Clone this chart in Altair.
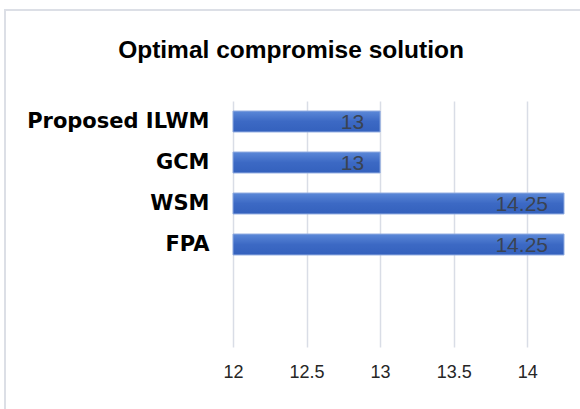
import altair as alt
import pandas as pd

categories = ["Proposed ILWM", "GCM", "WSM", "FPA"]
values = [13, 13, 14.25, 14.25]
label_texts = ["13", "13", "14.25", "14.25"]
y_domain = categories + [" ", "  "]
tick_values = [12, 12.5, 13, 13.5, 14]
x_min, x_max = 12, 14.25
title_text = "Optimal compromise solution"

df = pd.DataFrame({"cat": categories, "val": values, "lbl": label_texts, "base": [x_min] * len(values)})

W, H = 331, 246
PAD_L, PAD_T = 233, 101

xscale = alt.Scale(domain=[x_min, x_max], zero=False, nice=False)
yscale = alt.Scale(domain=y_domain, paddingInner=0.49, paddingOuter=0.245)

x_enc = alt.X("val:Q", scale=xscale,
              axis=alt.Axis(values=tick_values, title=None, domain=False, ticks=False,
                            grid=True, gridColor="#d9dde6", gridWidth=1.5, format="~g",
                            labelFont="Liberation Sans", labelFontSize=18, labelColor="#262626",
                            labelPadding=16, labelFlush=False))
y_enc = alt.Y("cat:N", scale=yscale, sort=y_domain,
              axis=alt.Axis(title=None, domain=False, ticks=False, grid=False,
                            labelFont="DejaVu Sans", labelFontWeight="bold", labelLimit=300,
                            labelFontSize=21, labelColor="#000000", labelPadding=24))

grad = alt.LinearGradient(
    gradient="linear",
    stops=[alt.GradientStop(color="#5b88d8", offset=0),
           alt.GradientStop(color="#3c69c4", offset=0.5),
           alt.GradientStop(color="#3461bd", offset=1)],
    x1=0, x2=0, y1=0, y2=1)

base = alt.Chart(df)

border = base.mark_rect(fill=None, stroke="#dcdfe6", strokeWidth=2).encode(
    x=alt.value(5 - PAD_L), x2=alt.value(600 - PAD_L),
    y=alt.value(10 - PAD_T), y2=alt.value(430 - PAD_T))

bars = base.mark_bar(color=grad, stroke="#8eaae0", strokeWidth=1).encode(
    x=x_enc, x2="base:Q", y=y_enc)

labels = base.mark_text(align="right", baseline="middle", dx=-16, dy=1,
                        font="Liberation Sans", fontSize=21, color="#3a4352").encode(
    x=alt.X("val:Q", scale=xscale), y=alt.Y("cat:N", scale=yscale, sort=y_domain), text="lbl:N")

title = alt.Chart(pd.DataFrame({"t": [title_text]})).mark_text(
    align="center", baseline="middle", font="Liberation Sans", fontWeight="bold",
    fontSize=24.5, color="#000000").encode(
    x=alt.value(291 - PAD_L), y=alt.value(51 - PAD_T), text="t:N")

chart = alt.layer(border, bars, labels, title).properties(
    width=W, height=H,
    autosize=alt.AutoSizeParams(type="none"),
    padding={"left": PAD_L, "top": PAD_T, "right": 580 - PAD_L - W, "bottom": 409 - PAD_T - H},
    background="white",
).configure_view(stroke=None)

chart.save("out.html", embed_options={"renderer": "svg", "actions": False})
